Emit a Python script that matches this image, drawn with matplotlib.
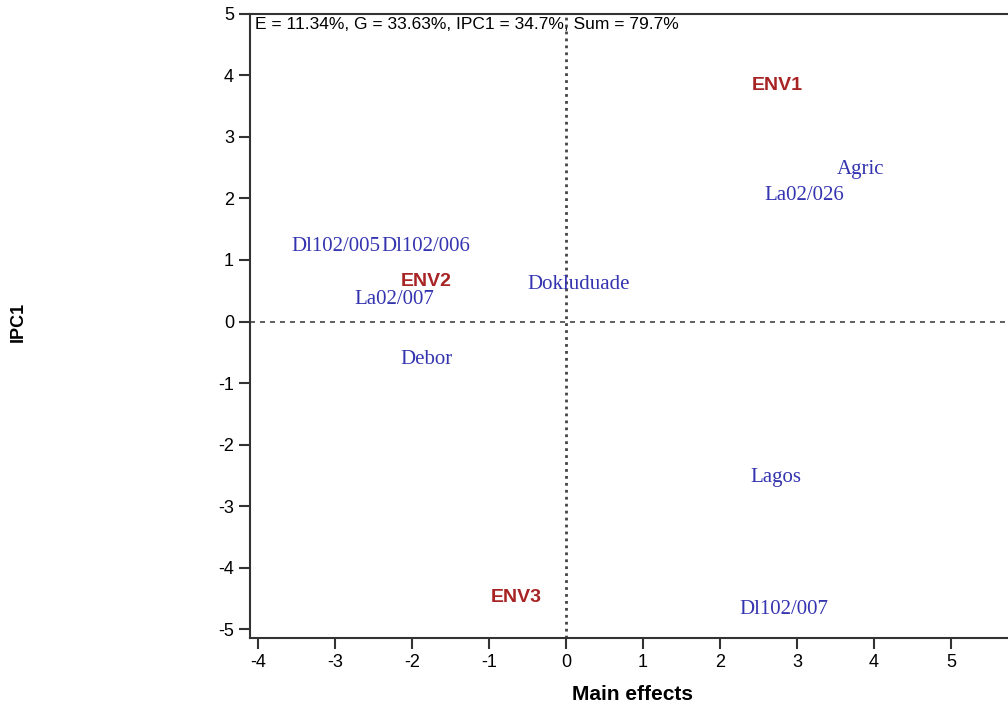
import matplotlib
matplotlib.use('Agg')
import matplotlib.pyplot as plt

# genotypes (blue, serif) and environments (red, bold)
gen_names = ['Agric', 'La02/026', 'Dl102/005', 'Dl102/006', 'La02/007',
             'Dokluduade', 'Debor', 'Lagos', 'Dl102/007']
gen_x = [3.82, 3.10, -2.98, -1.82, -2.23, 0.17, -1.81, 2.73, 2.83]
gen_y = [2.47, 2.05, 1.22, 1.22, 0.36, 0.60, -0.62, -2.54, -4.67]

env_names = ['ENV1', 'ENV2', 'ENV3']
env_x = [2.74, -1.81, -0.64]
env_y = [3.84, 0.65, -4.49]

xticks = [-4, -3, -2, -1, 0, 1, 2, 3, 4, 5]
yticks = [-5, -4, -3, -2, -1, 0, 1, 2, 3, 4, 5]
note = 'E = 11.34%, G = 33.63%, IPC1 = 34.7%, Sum = 79.7%'

plt.rcParams['font.family'] = ['Liberation Sans', 'DejaVu Sans']
plt.rcParams['axes.unicode_minus'] = False
fig = plt.figure(figsize=(10.08, 7.11), dpi=100)
ax = fig.add_axes([0.248, 0.1027, 0.772, 0.878])
ax.set_xlim(-4.1, 6.0)
ax.set_ylim(-5.14, 5.0)

ax.axvline(0, color='#444444', ls=(0, (1, 1.5)), lw=2.0, zorder=1)
ax.axhline(0, color='#444444', ls=(0, (3, 3)), lw=1.2, zorder=1)

for n, x, y in zip(gen_names, gen_x, gen_y):
    ax.text(x, y, n, color='#3434b0', fontsize=15, family='Liberation Serif',
            ha='center', va='center')
for n, x, y in zip(env_names, env_x, env_y):
    ax.text(x, y, n, color='#a82424', fontsize=14, fontweight='bold',
            ha='center', va='center')

ax.text(0.006, 0.995, note, transform=ax.transAxes, fontsize=12.5,
        ha='left', va='top')

ax.set_xticks(xticks)
ax.set_yticks(yticks)
ax.tick_params(direction='out', length=8, width=1.5, labelsize=13,
               color='#333333')
for s in ['left', 'bottom', 'top', 'right']:
    ax.spines[s].set_linewidth(1.5)
    ax.spines[s].set_color('#333333')

fig.text(0.627, 0.01, 'Main effects', fontsize=15, fontweight='bold',
         ha='center', va='bottom')
fig.text(0.018, 0.547, 'IPC1', fontsize=13, fontweight='bold',
         rotation=90, ha='center', va='center')

fig.savefig('out.png', dpi=100)
